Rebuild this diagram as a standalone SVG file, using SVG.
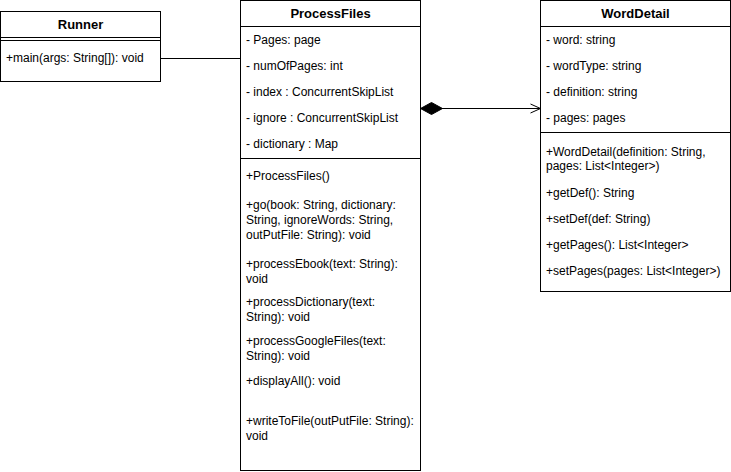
<svg xmlns="http://www.w3.org/2000/svg" width="731" height="472" viewBox="0 0 731 472">
  <style>
    .box { fill: #ffffff; stroke: #000000; stroke-width: 1; }
    .sep { fill: none; stroke: #000000; stroke-width: 1; }
    .title { font-family: "Liberation Sans", Arial, sans-serif; font-size: 13px; font-weight: bold; fill: #000000; text-anchor: middle; }
    .member { font-family: "Liberation Sans", Arial, sans-serif; font-size: 12px; fill: #000000; }
    .edge { fill: none; stroke: #000000; stroke-width: 1; }
  </style>
  <defs>
    <marker id="diamond" viewBox="0 0 22 14" refX="0" refY="7" markerWidth="22" markerHeight="14" markerUnits="userSpaceOnUse" orient="auto">
      <path d="M0,7 L11,1 L22,7 L11,13 Z" fill="#000000" stroke="#000000" stroke-width="1"/>
    </marker>
    <marker id="openArrow" viewBox="0 0 12 12" refX="11" refY="6" markerWidth="12" markerHeight="12" markerUnits="userSpaceOnUse" orient="auto">
      <path d="M1,1.5 L11,6 L1,10.5" fill="none" stroke="#000000" stroke-width="1"/>
    </marker>
  </defs>

  <g id="connectors">
    <line class="edge" x1="160.5" y1="58.5" x2="240.5" y2="58.5"/>
    <path class="edge" d="M420.5,108.5 L540.5,108.5" marker-start="url(#diamond)" marker-end="url(#openArrow)"/>
  </g>

  <g id="runner">
    <rect class="box" x="0.5" y="11.5" width="160" height="70"/>
    <line class="sep" x1="0.5" y1="37.5" x2="160.5" y2="37.5"/>
    <line class="sep" x1="0.5" y1="40.5" x2="160.5" y2="40.5"/>
    <text class="title" x="80.5" y="29">Runner</text>
    <text class="member" x="6" y="62">+main(args: String[]): void</text>
  </g>

  <g id="processfiles">
    <rect class="box" x="240.5" y="0.5" width="180" height="470"/>
    <line class="sep" x1="240.5" y1="26.5" x2="420.5" y2="26.5"/>
    <line class="sep" x1="240.5" y1="158.5" x2="420.5" y2="158.5"/>
    <text class="title" x="330.5" y="18">ProcessFiles</text>
    <text class="member" x="246" y="44">- Pages: page</text>
    <text class="member" x="246" y="70">- numOfPages: int</text>
    <text class="member" x="246" y="96">- index : ConcurrentSkipList</text>
    <text class="member" x="246" y="122">- ignore : ConcurrentSkipList</text>
    <text class="member" x="246" y="148">- dictionary : Map</text>
    <text class="member" x="246" y="180">+ProcessFiles()</text>
    <text class="member" x="246" y="209">+go(book: String, dictionary:</text>
    <text class="member" x="246" y="224">String, ignoreWords: String,</text>
    <text class="member" x="246" y="239">outPutFile: String): void</text>
    <text class="member" x="246" y="268">+processEbook(text: String):</text>
    <text class="member" x="246" y="283">void</text>
    <text class="member" x="246" y="306">+processDictionary(text:</text>
    <text class="member" x="246" y="321">String): void</text>
    <text class="member" x="246" y="345">+processGoogleFiles(text:</text>
    <text class="member" x="246" y="360">String): void</text>
    <text class="member" x="246" y="385">+displayAll(): void</text>
    <text class="member" x="246" y="425">+writeToFile(outPutFile: String):</text>
    <text class="member" x="246" y="440">void</text>
  </g>

  <g id="worddetail">
    <rect class="box" x="540.5" y="0.5" width="190" height="291"/>
    <line class="sep" x1="540.5" y1="26.5" x2="730.5" y2="26.5"/>
    <line class="sep" x1="540.5" y1="132.5" x2="730.5" y2="132.5"/>
    <text class="title" x="635.5" y="18">WordDetail</text>
    <text class="member" x="546" y="44">- word: string</text>
    <text class="member" x="546" y="70">- wordType: string</text>
    <text class="member" x="546" y="96">- definition: string</text>
    <text class="member" x="546" y="122">- pages: pages</text>
    <text class="member" x="546" y="156">+WordDetail(definition: String,</text>
    <text class="member" x="546" y="170">pages: List&lt;Integer&gt;)</text>
    <text class="member" x="546" y="197">+getDef(): String</text>
    <text class="member" x="546" y="223">+setDef(def: String)</text>
    <text class="member" x="546" y="249">+getPages(): List&lt;Integer&gt;</text>
    <text class="member" x="546" y="275">+setPages(pages: List&lt;Integer&gt;)</text>
  </g>
</svg>
